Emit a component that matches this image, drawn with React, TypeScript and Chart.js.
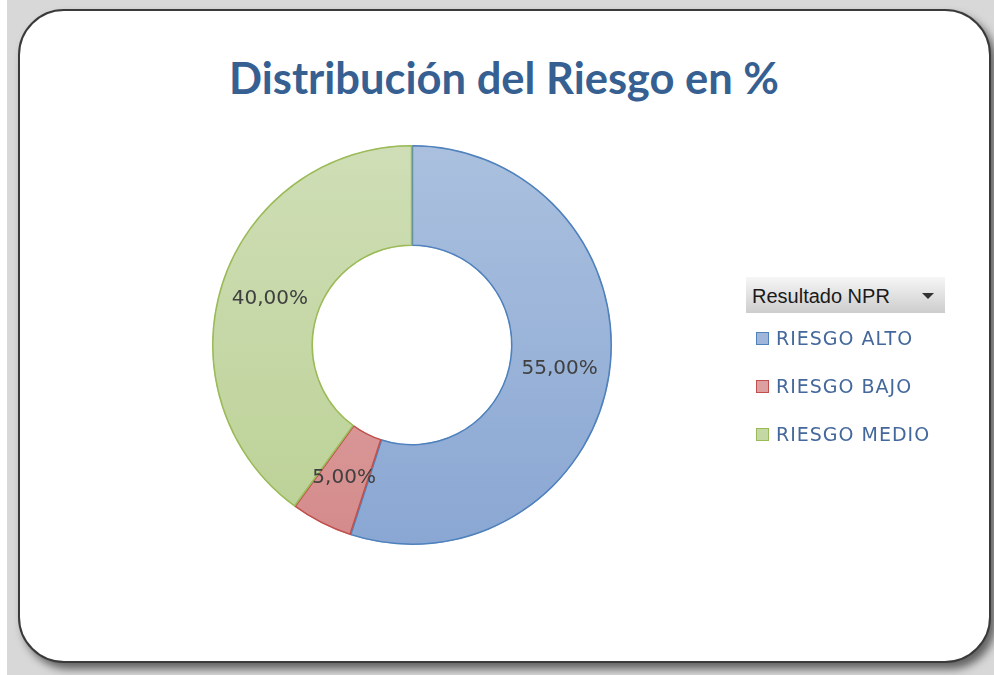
import React, { useEffect, useRef } from "react";
import { Chart, registerables } from "chart.js";

Chart.register(...registerables);

const TITLE = "Distribución del Riesgo en %";
const FIELD_NAME = "Resultado NPR";
const CATEGORIES = ["RIESGO ALTO", "RIESGO BAJO", "RIESGO MEDIO"];
const VALUES = [55, 5, 40];
const LABELS_TEXT = ["55,00%", "5,00%", "40,00%"];
const FILL_TOP = ["#aac0de", "#e4b2b1", "#cfdeb6"];
const FILL_BOTTOM = ["#8aa7d3", "#d48a8a", "#bbd195"];
const BORDERS = ["#4f81bd", "#c0504d", "#9bbb59"];
const LEGEND_FILL = ["#9fb6da", "#dca0a0", "#c4d8a6"];

const labelPlugin = {
  id: "sliceLabels",
  afterDatasetsDraw(chart: any) {
    const ctx = chart.ctx;
    const meta = chart.getDatasetMeta(0);
    ctx.save();
    ctx.font = "20px 'DejaVu Sans'";
    ctx.fillStyle = "#404040";
    ctx.textAlign = "center";
    ctx.textBaseline = "middle";
    meta.data.forEach((arc: any, i: number) => {
      const p = arc.tooltipPosition(false);
      ctx.fillText(LABELS_TEXT[i], p.x, p.y);
    });
    ctx.restore();
  },
};

export default function App() {
  const ref = useRef<HTMLCanvasElement>(null);
  useEffect(() => {
    if (!ref.current) return;
    const chart = new Chart(ref.current, {
      type: "doughnut",
      data: {
        labels: CATEGORIES,
        datasets: [
          {
            data: VALUES,
            backgroundColor: (c: any) => {
              const area = c.chart.chartArea;
              const i = c.dataIndex;
              if (!area) return FILL_TOP[i];
              const g = c.chart.ctx.createLinearGradient(0, area.top, 0, area.bottom);
              g.addColorStop(0, FILL_TOP[i]);
              g.addColorStop(1, FILL_BOTTOM[i]);
              return g;
            },
            borderColor: BORDERS,
            borderWidth: 1.2,
            hoverOffset: 0,
            borderAlign: "inner",
          },
        ],
      },
      options: {
        animation: false,
        responsive: false,
        cutout: "49.5%",
        layout: { padding: { left: 212, right: 382, top: 145, bottom: 130 } },
        plugins: {
          legend: { display: false },
          tooltip: { enabled: false },
          title: { display: false },
        },
      },
      plugins: [labelPlugin],
    });
    return () => chart.destroy();
  }, []);

  return (
    <div style={{ position: "fixed", left: 0, top: 0, width: 994, height: 675, background: "#ffffff", overflow: "hidden" }}>
      <div style={{ position: "absolute", left: 7, top: 0, width: 987, height: 675, background: "#d8d8d8" }} />
      <div
        style={{
          position: "absolute",
          left: 18,
          top: 9,
          width: 969,
          height: 650,
          border: "2px solid #3a3a3a",
          borderRadius: 46,
          background: "#ffffff",
          boxShadow: "5px 6px 8px rgba(0,0,0,0.55)",
        }}
      />
      <div
        style={{
          position: "absolute",
          left: 18,
          width: 972,
          top: 50,
          textAlign: "center",
          fontFamily: "Lato, sans-serif",
          fontWeight: 700,
          fontSize: 43.5,
          color: "#376092",
          lineHeight: "54px",
        }}
      >
        {TITLE}
      </div>
      <canvas ref={ref} width={994} height={675} style={{ position: "absolute", left: 0, top: 0, width: 994, height: 675 }} />
      <div
        style={{
          position: "absolute",
          left: 746,
          top: 277,
          width: 199,
          height: 36,
          background: "linear-gradient(#f6f6f6, #cdcdcd)",
          fontFamily: "'Liberation Sans', Arial, sans-serif",
          fontSize: 20,
          lineHeight: "38px",
          color: "#1a1a1a",
          paddingLeft: 6,
          boxSizing: "border-box",
          letterSpacing: 0,
        }}
      >
        {FIELD_NAME}
        <div
          style={{
            position: "absolute",
            left: 176,
            top: 16,
            width: 0,
            height: 0,
            borderLeft: "6px solid transparent",
            borderRight: "6px solid transparent",
            borderTop: "6px solid #333333",
          }}
        />
      </div>
      {CATEGORIES.map((c, i) => (
        <div
          key={c}
          style={{
            position: "absolute",
            left: 756,
            top: 325 + i * 48,
            height: 26,
            display: "flex",
            alignItems: "center",
            fontFamily: "'DejaVu Sans', sans-serif",
            fontSize: 19,
            letterSpacing: 1,
            color: "#44689c",
            whiteSpace: "nowrap",
          }}
        >
          <span
            style={{
              display: "inline-block",
              width: 11,
              height: 11,
              background: LEGEND_FILL[i],
              border: "1px solid " + BORDERS[i],
              marginRight: 7,
            }}
          />
          {c}
        </div>
      ))}
    </div>
  );
}
